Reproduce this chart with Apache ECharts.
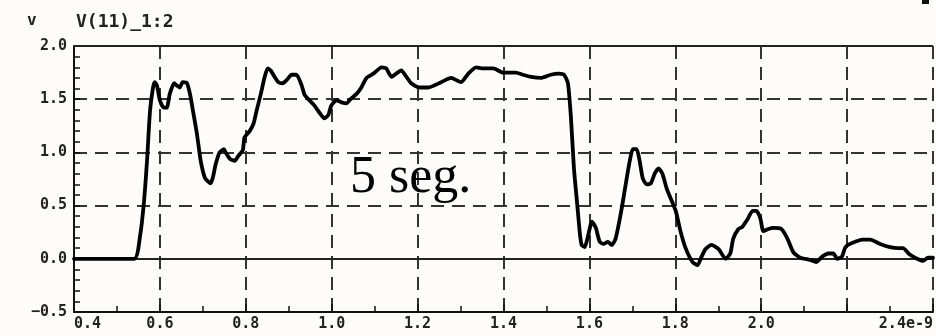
<!DOCTYPE html>
<html>
<head>
<meta charset="utf-8">
<script src="https://cdn.jsdelivr.net/npm/echarts@6/dist/echarts.min.js"></script>
<style>
html,body{margin:0;padding:0;background:#fdfcfa;}
#c{width:936px;height:336px;}
</style>
</head>
<body>
<div id="c"></div>
<script>
// time in units of 1e-9 s
const timeNs = [0.400,0.540,0.554,0.563,0.570,0.577,0.584,0.588,0.593,0.600,0.609,0.616,0.623,0.633,0.639,0.646,0.653,0.663,0.670,0.677,0.686,0.695,0.705,0.718,0.723,0.730,0.739,0.749,0.753,0.763,0.774,0.783,0.793,0.797,0.809,0.818,0.825,0.835,0.844,0.851,0.858,0.867,0.876,0.886,0.895,0.907,0.918,0.930,0.937,0.948,0.960,0.972,0.983,0.992,0.999,1.011,1.023,1.034,1.046,1.058,1.069,1.081,1.097,1.116,1.127,1.139,1.150,1.162,1.174,1.185,1.204,1.225,1.255,1.278,1.301,1.318,1.336,1.352,1.376,1.399,1.429,1.445,1.464,1.487,1.510,1.529,1.541,1.550,1.557,1.564,1.571,1.578,1.582,1.589,1.596,1.606,1.615,1.624,1.633,1.643,1.652,1.661,1.671,1.678,1.687,1.694,1.701,1.710,1.717,1.724,1.733,1.743,1.752,1.761,1.770,1.780,1.789,1.801,1.812,1.824,1.840,1.852,1.859,1.870,1.884,1.901,1.917,1.928,1.935,1.947,1.956,1.968,1.980,1.989,1.998,2.005,2.017,2.028,2.047,2.061,2.075,2.091,2.114,2.128,2.142,2.156,2.168,2.177,2.188,2.195,2.202,2.219,2.235,2.254,2.277,2.300,2.319,2.330,2.346,2.363,2.377,2.388,2.400];
const voltage = [0.00,0.00,0.22,0.54,0.92,1.39,1.61,1.66,1.63,1.49,1.42,1.42,1.55,1.65,1.63,1.61,1.66,1.65,1.55,1.39,1.18,0.92,0.76,0.71,0.76,0.89,1.00,1.03,1.00,0.94,0.92,0.97,1.02,1.14,1.20,1.27,1.39,1.55,1.71,1.79,1.77,1.71,1.66,1.65,1.68,1.73,1.73,1.63,1.54,1.49,1.44,1.37,1.32,1.35,1.44,1.49,1.47,1.46,1.51,1.55,1.61,1.70,1.74,1.80,1.79,1.71,1.74,1.77,1.71,1.65,1.61,1.61,1.66,1.70,1.66,1.74,1.80,1.79,1.79,1.75,1.75,1.73,1.71,1.70,1.73,1.74,1.73,1.65,1.33,0.85,0.54,0.23,0.13,0.11,0.20,0.35,0.29,0.16,0.14,0.16,0.13,0.19,0.38,0.54,0.76,0.92,1.03,1.03,0.92,0.76,0.70,0.71,0.80,0.85,0.80,0.66,0.57,0.45,0.26,0.10,-0.03,-0.06,0.00,0.09,0.13,0.09,0.00,0.05,0.19,0.28,0.30,0.37,0.45,0.45,0.38,0.26,0.28,0.29,0.28,0.19,0.06,0.01,-0.01,-0.03,0.02,0.05,0.05,0.00,0.02,0.10,0.13,0.16,0.18,0.18,0.14,0.11,0.10,0.10,0.04,0.00,-0.02,0.01,0.01];
const yUnit = 'v';
const traceName = 'V(11)_1:2';
const annotation = '5 seg.';
const xExponent = 'e-9';

const chart = echarts.init(document.getElementById('c'), null, {renderer: 'canvas'});
const mono = "'DejaVu Sans Mono', monospace";
const dashColor = '#333';

chart.setOption({
  backgroundColor: '#fdfcfa',
  animation: false,
  grid: {left: 74, right: 3, top: 46, bottom: 24, containLabel: false},
  title: [
    {text: yUnit, left: 22, top: 8, textStyle: {fontFamily: mono, fontWeight: 'bold', fontSize: 16, color: '#222'}},
    {text: traceName, left: 71, top: 8, textStyle: {fontFamily: mono, fontWeight: 'bold', fontSize: 18, color: '#222'}}
  ],
  xAxis: {
    type: 'value', min: 0.4, max: 2.4, interval: 0.2,
    axisLine: {show: true, onZero: false, lineStyle: {color: '#111', width: 2}},
    axisTick: {show: true, inside: true, length: 8, lineStyle: {color: '#111', width: 1.5}},
    minorTick: {show: true, splitNumber: 2, length: 6, lineStyle: {color: '#111', width: 1.5}},
    splitLine: {show: true, lineStyle: {color: dashColor, width: 2, type: [13, 8]}},
    axisLabel: {
      fontFamily: mono, fontWeight: 'bold', fontSize: 15, color: '#222', margin: 5,
      alignMinLabel: 'left', alignMaxLabel: 'right',
      formatter: function (v) {
        if (Math.abs(v - 2.2) < 1e-6) return '';
        if (Math.abs(v - 2.4) < 1e-6) return v.toFixed(1) + xExponent;
        return v.toFixed(1);
      }
    }
  },
  yAxis: {
    type: 'value', min: -0.5, max: 2.0, interval: 0.5,
    axisLine: {show: true, onZero: false, lineStyle: {color: '#111', width: 2}},
    axisTick: {show: true, inside: true, length: 6, lineStyle: {color: '#111', width: 1.5}},
    minorTick: {show: true, splitNumber: 5, length: 6, lineStyle: {color: '#111', width: 1.5}},
    splitLine: {show: true, lineStyle: {color: dashColor, width: 2, type: [13, 8]}},
    axisLabel: {
      fontFamily: mono, fontWeight: 'bold', fontSize: 15, color: '#222', margin: 7,
      formatter: function (v) { return (v < 0 ? '\u2212' + Math.abs(v).toFixed(1) : v.toFixed(1)); }
    }
  },
  graphic: [
    {type: 'text', left: 350, top: 152, z: 100,
     style: {text: annotation, font: "52px 'Liberation Serif', 'Times New Roman', serif", fill: '#000'}},
    {type: 'rect', left: 922, top: 0, z: 100, shape: {width: 7, height: 4}, style: {fill: '#111'}}
  ],
  series: [{
    type: 'line',
    data: timeNs.map((t, i) => [t, voltage[i]]),
    showSymbol: false,
    smooth: 0.2,
    lineStyle: {color: '#000', width: 3.8, join: 'round', cap: 'round'},
    z: 5,
    markLine: {
      silent: true, symbol: 'none', label: {show: false}, z: 3,
      lineStyle: {type: 'solid', color: '#222', width: 2},
      data: [{yAxis: 0}, {yAxis: 2.0}]
    }
  }]
});
</script>
</body>
</html>
